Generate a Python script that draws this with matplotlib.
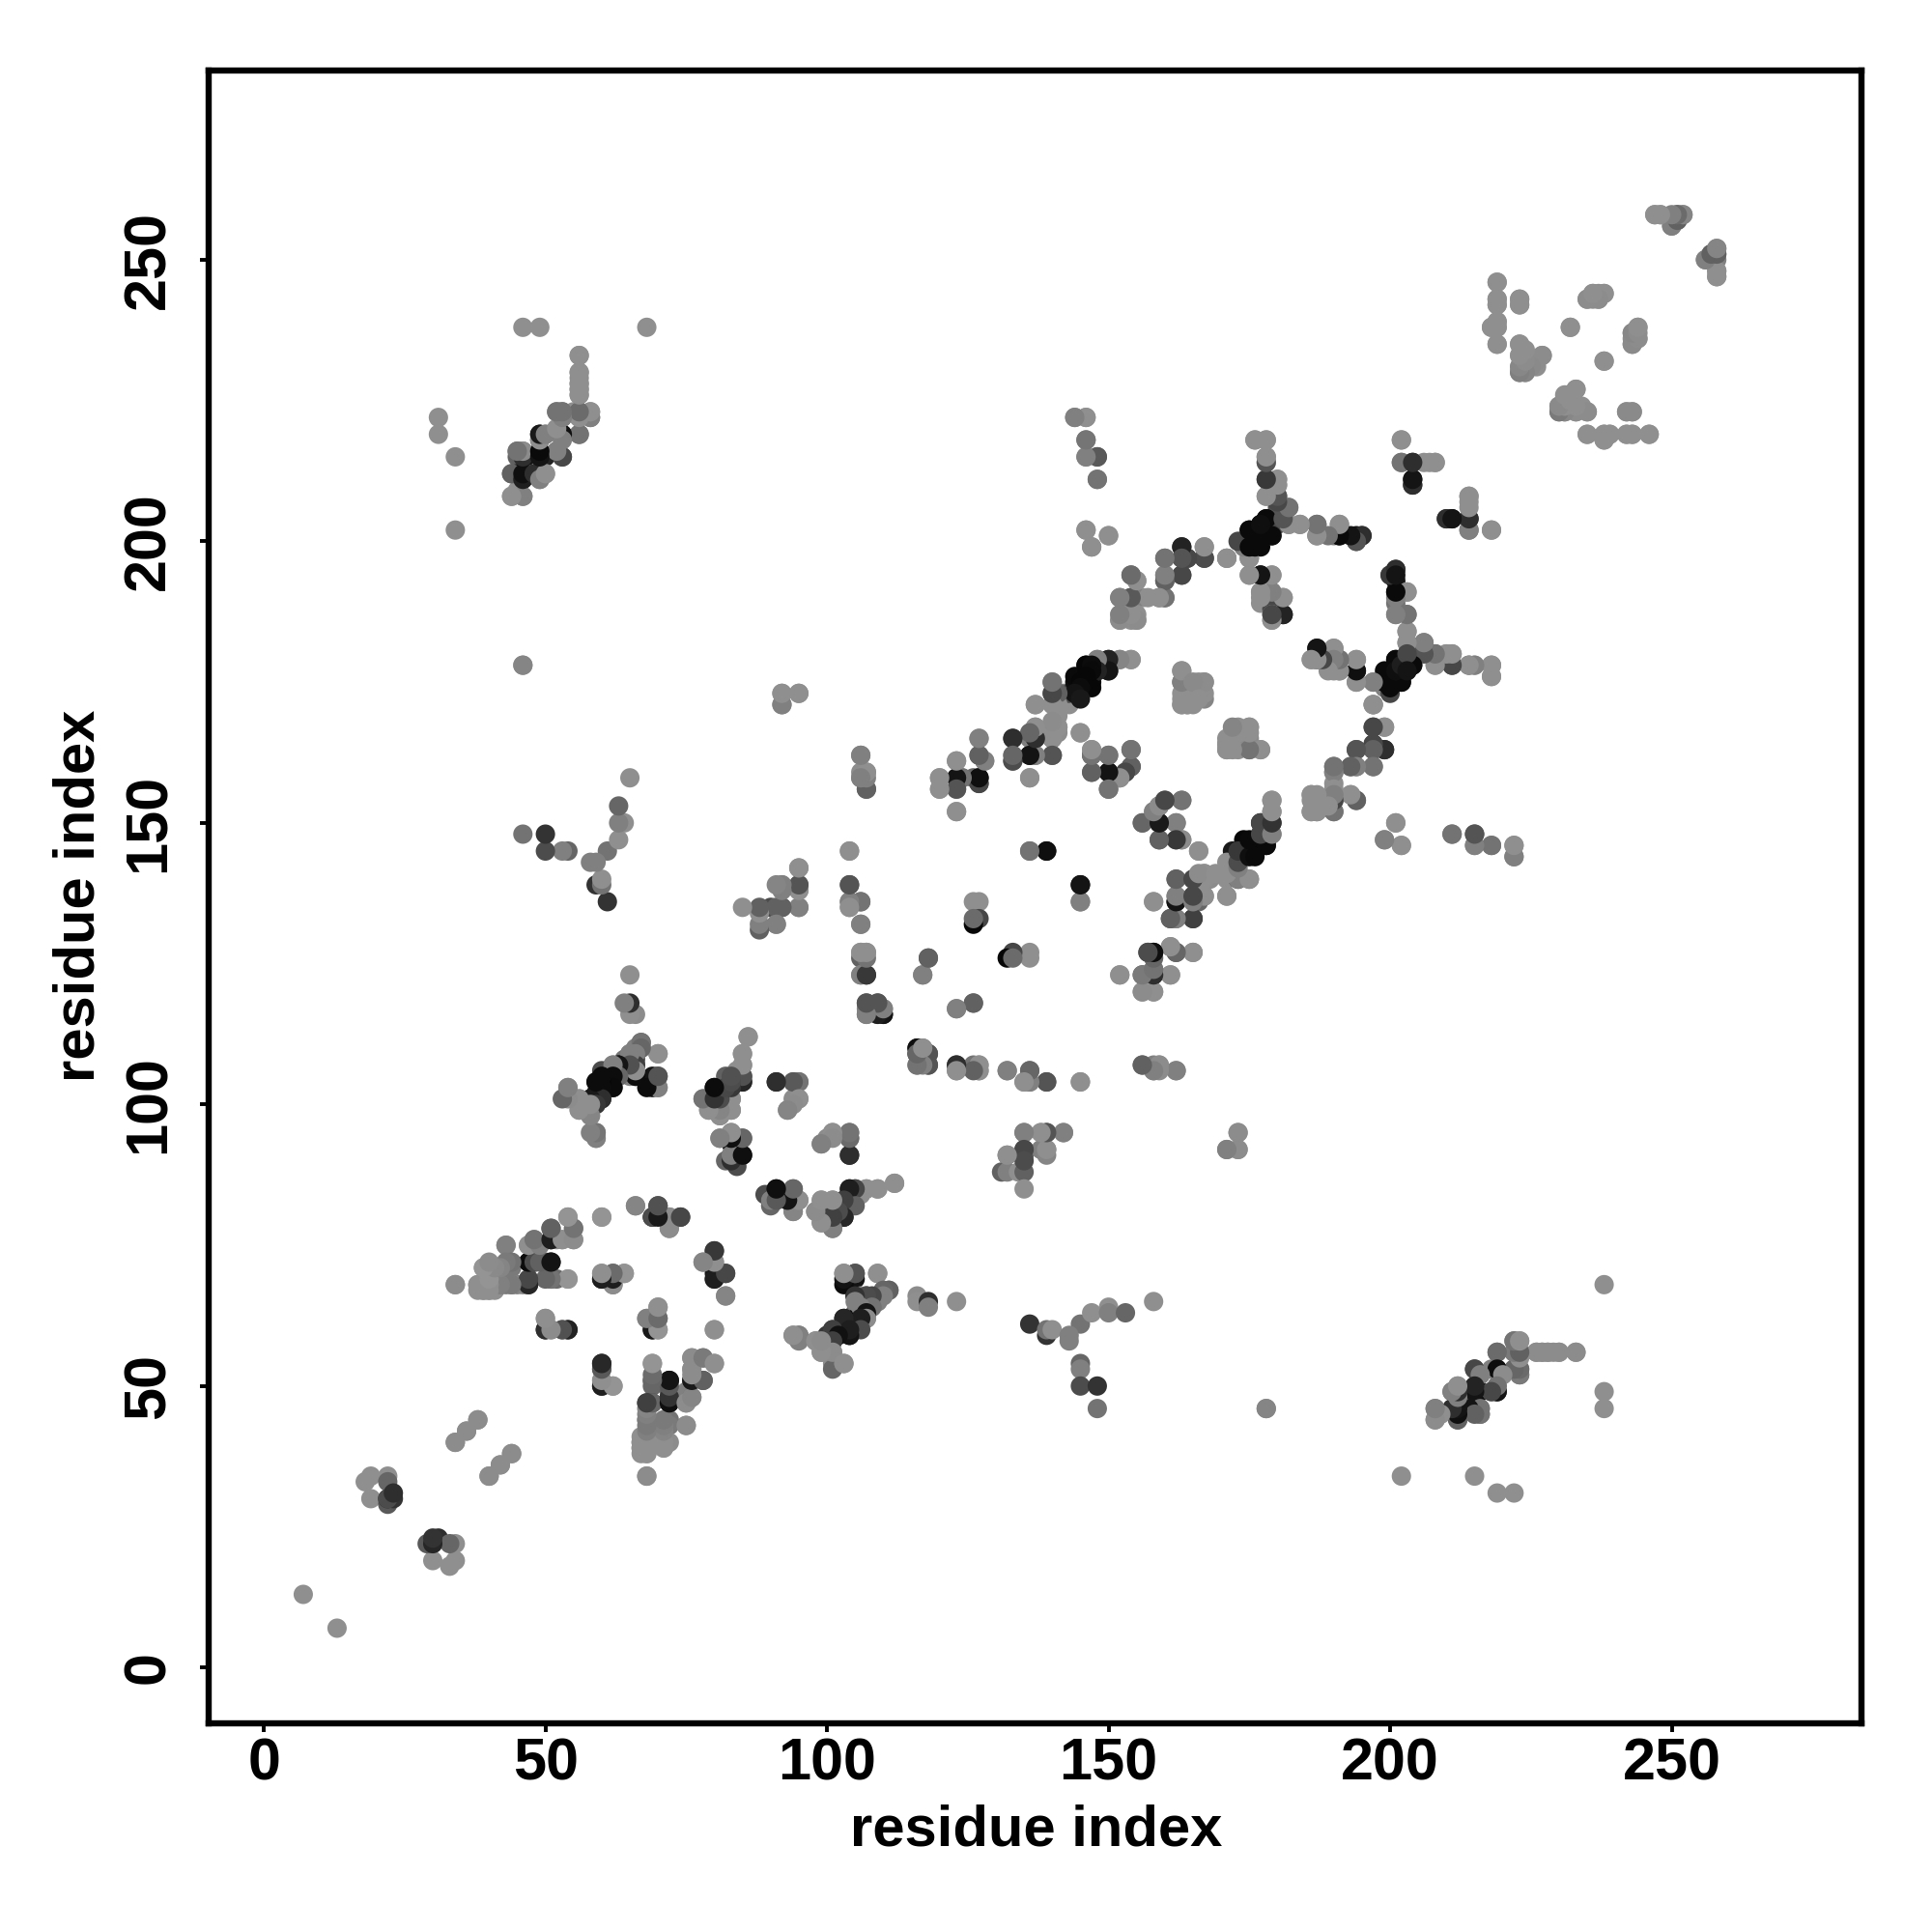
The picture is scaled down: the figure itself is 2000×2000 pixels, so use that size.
import matplotlib
matplotlib.use("Agg")
import matplotlib.pyplot as plt

# (residue a, residue b, grey level), each contact gets mirrored below
ticks = [0, 50, 100, 150, 200, 250]
axis_label = "residue index"

n_term = [(7,13,.56),(18,33,.56),(19,34,.56),(22,34,.56),(22,33,.4),(19,30,.56),(22,29,.35),(22,30,.15),(23,30,.2),
    (30,22,.3),(31,23,.18),(34,40,.55),(36,42,.55),(38,44,.55),(40,34,.55),(42,36,.55),(44,38,.55)]

block_a = [(34,68,.55),(38,68,.56),(39,67,.56),(40,67,.56),(41,67,.56),(39,71,.56),(40,71,.56),(40,68,.56),(41,68,.56),
    (42,71,.52),(43,71,.5),(44,71,.48),(42,68,.5),(43,68,.48),(44,68,.48),(43,75,.55),(45,68,.5),(46,68,.52),
    (47,69,.4),(47,68,.25),(47,72,.06),(48,72,.2),(50,72,.35),(51,72,.08),(51,69,.4),(52,69,.42),(54,69,.58),
    (47,75,.55),(48,76,.52),(51,76,.1),(51,78,.38),(52,76,.55),(53,76,.55),(55,76,.55),(55,78,.48),(54,80,.56),
    (60,80,.56),(66,82,.52),(69,80,.12),(70,82,.28),(72,80,.56),(74,80,.22),(72,78,.52),
    (60,69,.1),(60,70,.58),(62,68,.5),(62,70,.42),(64,70,.56),(80,72,.55),(78,72,.55),(80,74,.28),(80,69,.3),(80,70,.1),
    (82,70,.32),(82,66,.52),(50,60,.12),(50,62,.58),(51,60,.56),(53,60,.35),(54,60,.16),
    (68,62,.55),(69,62,.12),(70,64,.58),(70,62,.42),(69,60,.12),(70,60,.56),(80,60,.58)]

block_b = [(60,54,.14),(60,53,.32),(60,50,.18),(60,51,.55),(62,50,.56),(69,54,.58),(69,51,.45),(69,50,.4),(68,47,.15),
    (69,47,.28),(72,47,.05),(72,48,.3),(72,49,.38),(72,51,.08),(75,47,.56),(75,49,.5),(76,48,.45),(76,51,.12),(76,53,.56),
    (76,55,.55),(78,55,.45),(78,51,.38),(80,54,.58),(75,43,.5),(68,44,.48),(68,42,.5),(67,40,.56),(67,39,.56),(67,38,.56),
    (68,40,.56),(68,39,.56),(68,38,.56),(69,40,.58),(72,44,.45),(72,43,.48),(71,42,.52),(71,41,.54),(71,39,.58),(72,40,.55),(68,34,.55)]

block_c = [(89,84,.3),(90,83,.18),(91,83,.5),(91,85,.06),(94,85,.4),(94,83,.06),(95,83,.56),(94,81,.5),
    (104,85,.15),(105,85,.32),(107,85,.56),(109,85,.56),(112,86,.56),(98,81,.56),(99,83,.56),(101,83,.56),(99,81,.52),(99,79,.56),
    (101,78,.45),(101,81,.3),(101,80,.2),(103,83,.22),(103,82,.28),(104,83,.3),(105,83,.32),(103,80,.05),
    (103,70,.5),(105,69,.08),(103,68,.05),(105,70,.33),(109,70,.56),(111,67,.45),(110,67,.4),(109,66,.5),(107,66,.25),
    (105,66,.05),(106,66,.56),(109,65,.5),(107,65,.32),(107,63,.08),(105,63,.4),(107,62,.5),(105,62,.05),(103,62,.04),(104,60,.03),
    (103,60,.05),(105,60,.05),(101,60,.18),(101,58,.1),(100,59,.22),(104,59,.05),(94,59,.5),(95,59,.46),(95,58,.5),(98,58,.52),
    (99,56,.56),(100,58,.56),(101,56,.56),(101,54,.55),(101,53,.4),(103,54,.5),(116,66,.55),(116,65,.56),(118,65,.18),(118,64,.5),(123,65,.56)]

block_d = [(59,95,.5),(59,94,.56),(70,109,.56),(67,111,.38),(67,110,.4),(66,110,.5),(65,109,.5),(66,108,.28),(66,107,.3),(64,108,.45),
    (66,105,.2),(65,105,.5),(64,106,.5),(63,107,.08),(62,107,.55),(62,106,.12),(62,103,.15),(60,106,.3),(59,104,.08),(60,104,.12),
    (60,101,.25),(59,102,.07),(58,101,.25),(56,101,.55),(54,103,.56),(56,99,.56),(58,98,.56),(58,99,.55),(69,103,.08),(70,105,.33),(70,103,.56),
    (86,112,.56),(85,109,.56),(85,107,.56),(84,106,.56),(85,105,.28),(85,104,.12),(82,105,.38),(83,103,.25),(80,103,.15),(81,102,.3),
    (78,101,.5),(80,101,.25),(79,99,.56),(81,98,.55),(83,101,.56),(83,99,.56),(81,94,.52),(83,95,.56),(83,93,.08),(85,94,.4),(82,90,.4),
    (83,90,.5),(83,91,.35),(85,91,.06),(91,104,.18),(94,104,.42),(95,104,.45),(95,101,.56),(94,101,.55),(93,99,.5),
    (104,95,.45),(104,94,.35),(104,91,.18),(101,95,.56),(100,94,.55),(99,93,.52)]

block_e = [(92,173,.55),(95,173,.55),(92,171,.5),(106,162,.5),(106,159,.55),(107,159,.55),(106,158,.5),(107,156,.38),
    (120,158,.56),(120,156,.55),(123,161,.56),(123,158,.18),(123,156,.48),(124,158,.45),(123,152,.56),(127,165,.56),(127,162,.4),(128,161,.56),
    (126,158,.4),(127,158,.06),(127,157,.3),(133,165,.25),(133,162,.5),(133,161,.38),(136,162,.08),(137,162,.5),(140,162,.38),(136,158,.56),
    (137,167,.56),(136,165,.5),(137,165,.28),(140,167,.56),(141,167,.56),(140,165,.28),(141,166,.55),(137,171,.56),(140,173,.5),(140,175,.56),
    (141,171,.56),(141,169,.56),(143,171,.56),(142,173,.5),(145,166,.56),(147,163,.55),(150,162,.5),(154,163,.45),(147,162,.22),(147,159,.38),
    (150,156,.4),(150,159,.1),(152,158,.5),(153,159,.55),(154,160,.28),(143,173,.3),(145,173,.22),(144,175,.06),(144,176,.04),(146,178,.04),
    (147,175,.04),(148,177,.28),(150,177,.28),(148,179,.5),(150,179,.2),(152,179,.56),(154,179,.56)]

block_f = [(163,177,.56),(163,175,.45),(166,175,.56),(167,175,.56),(166,173,.56),(163,172,.56),(163,171,.56),(164,171,.56),(165,171,.56),(167,172,.52),
    (171,164,.56),(171,163,.56),(173,164,.56),(173,163,.56),(173,167,.56),(175,167,.55),(175,163,.5),(177,163,.56),(172,165,.56),(175,165,.54),(172,166,.56),
    (197,167,.3),(199,167,.56),(197,164,.28),(194,163,.28),(199,163,.14),(197,163,.33),(190,160,.45),(193,160,.38),(194,160,.5),(197,160,.45),(190,159,.56),(197,171,.56),
    (186,155,.55),(186,152,.55),(187,154,.56),(187,152,.5),(190,157,.56),(190,154,.35),(190,152,.5),(193,155,.56),(194,154,.42),
    (201,150,.56),(199,147,.56),(202,146,.56),(211,148,.45),(215,148,.35),(215,146,.5),(218,146,.46),(222,146,.56),(222,144,.5)]

block_g = [(136,145,.5),(139,145,.08),(145,139,.06),(145,136,.45),(179,154,.56),(179,152,.52),(179,150,.14),(177,150,.08),(179,148,.5),(177,148,.14),
    (178,146,.03),(178,147,.05),(177,147,.04),(176,146,.03),(175,146,.03),(175,145,.03),(174,147,.03),(174,145,.05),(173,144,.08),(172,145,.1),
    (171,141,.56),(173,141,.38),(170,141,.56),(171,140,.56),(173,140,.28),(175,140,.45),(171,137,.56),(167,141,.56),(166,140,.56),(165,140,.56),(168,140,.55),
    (162,140,.33),(162,137,.5),(162,136,.08),(165,137,.18),(167,137,.56),(166,136,.4),(165,133,.18),(161,133,.3),(162,133,.4),(158,136,.56),(166,145,.56),
    (157,127,.28),(158,127,.06),(161,128,.5),(162,127,.38),(165,127,.5),(158,124,.45),(158,123,.08),(156,123,.33),(161,123,.56),(152,123,.56),(156,120,.56),(158,120,.56),
    (160,154,.38),(163,154,.45),(159,153,.28),(158,152,.56),(159,150,.08),(156,150,.45),(162,150,.45),(159,147,.38),(162,147,.45),(163,147,.56)]

block_h = [(95,142,.5),(92,139,.56),(95,139,.33),(95,138,.56),(95,135,.5),(92,135,.28),(90,135,.3),(91,132,.56),(104,145,.56),(104,139,.33),(104,136,.5),
    (106,136,.4),(104,135,.56),(106,132,.5),(127,136,.56),(126,136,.56),(127,133,.28),(126,132,.03),(126,133,.42),(106,127,.56),(107,127,.56),(106,126,.38),
    (107,123,.18),(106,123,.56),(118,126,.38),(117,123,.5),(107,118,.33),(109,118,.33),(107,117,.5),(110,116,.06),(107,116,.45),(109,116,.4),(110,117,.56),
    (123,117,.5),(126,118,.38),(116,110,.08),(116,109,.12),(117,110,.5),(118,109,.33),(116,107,.5),(118,107,.33),(123,106,.5),(123,107,.22),(126,107,.45),
    (127,107,.56),(127,106,.56),(132,106,.5),(136,106,.45),(136,104,.5),(135,104,.56),(139,104,.33),(145,104,.56),(156,107,.38),(158,107,.5),(159,107,.56),
    (158,106,.5),(162,106,.5),(135,95,.5),(138,95,.56),(139,95,.33),(142,95,.56),(135,92,.38),(135,91,.38),(138,92,.5),(139,92,.5),(139,91,.52),(132,91,.5),
    (131,88,.38),(132,88,.5),(134,88,.56),(135,88,.38),(135,85,.56),(173,95,.56),(171,92,.5),(173,92,.56)]

block_i = [(136,61,.2),(139,59,.2),(139,60,.45),(140,60,.56),(145,61,.45),(143,58,.5),(143,59,.5),(145,54,.4),(145,53,.5),(145,50,.3),(148,50,.2),(148,46,.45),
    (147,63,.56),(150,64,.56),(150,63,.5),(153,63,.4),(158,65,.56),(178,46,.52),(202,34,.56),(215,34,.56),(219,31,.56),(222,31,.56),(46,178,.52),(68,238,.56),(46,238,.56),(49,238,.56)]

block_j = [(144,222,.5),(146,222,.56),(146,218,.45),(146,215,.5),(148,215,.33),(148,211,.45),(146,202,.56),(150,201,.56),(147,199,.5),
    (176,218,.56),(178,218,.56),(178,215,.5),(178,214,.56),(178,211,.28),(180,211,.56),(180,210,.56),(178,208,.56),(180,208,.45),(180,206,.33),(182,206,.5),
    (182,203,.56),(184,203,.56),(187,203,.45),(187,201,.5),(191,203,.56),(190,201,.5),(191,201,.04),(194,200,.22),(195,201,.18),(194,201,.08),
    (174,200,.04),(175,202,.04),(178,204,.04),(175,199,.04),(177,199,.04),(179,201,.04),(177,201,.06),(178,202,.12),(180,203,.28),(177,203,.08),
    (171,197,.56),(175,197,.5),(175,194,.56),(177,194,.06),(179,194,.56),(177,191,.56),(179,191,.45),(181,190,.56),(179,190,.5),(177,189,.56),(179,188,.28),(179,187,.56),(181,187,.08),(179,186,.56),
    (163,199,.18),(167,199,.56),(167,197,.28),(164,197,.28),(163,197,.38),(163,194,.33),(160,197,.45),(160,194,.5),(160,193,.38),(154,194,.38),(155,193,.56),
    (159,190,.5),(160,190,.45),(156,190,.56),(152,190,.45),(154,190,.28),(155,190,.5),(152,186,.56),(154,186,.56),(155,186,.56),(152,187,.56),(155,187,.56),(153,189,.56)]

block_k = [(187,181,.14),(186,179,.56),(187,179,.28),(190,181,.56),(191,179,.5),(190,177,.56),(191,177,.56),(194,179,.56),(194,177,.08),(194,175,.56),(197,175,.56),(197,171,.56),
    (199,174,.5),(200,173,.28),(199,176,.04),(199,175,.04),(201,179,.04),(202,175,.04),(204,178,.04),(201,177,.04),(203,177,.06),
    (201,195,.18),(200,194,.33),(201,193,.08),(201,191,.04),(203,191,.56),(201,189,.45),(201,187,.56),(203,187,.45),(203,184,.56),(203,182,.56),(204,181,.33),(206,182,.45),
    (207,180,.28),(208,180,.33),(210,180,.56),(211,180,.56),(208,178,.56),(211,178,.22),(214,178,.33),(215,178,.56),(218,178,.56),(218,176,.56),
    (202,218,.56),(202,214,.5),(204,214,.18),(206,214,.56),(208,214,.56),(204,210,.18),(204,211,.08),(210,204,.18),(211,204,.08),(214,208,.56),(214,207,.56),(214,202,.45),(214,204,.18),(218,202,.56)]

block_l = [(219,246,.56),(219,243,.56),(219,242,.56),(223,243,.54),(223,242,.54),(219,239,.56),(218,238,.56),(219,238,.56),(219,235,.56),
    (223,235,.55),(223,233,.55),(223,231,.53),(223,230,.48),(224,233,.56),(224,231,.56),(224,230,.54),(225,232,.56),(226,232,.56),(226,231,.56),(227,233,.56),
    (232,238,.56),(235,243,.54),(236,244,.55),(237,243,.53),(237,244,.55),(238,244,.56),(238,232,.56),(244,238,.56),(243,237,.55),(243,236,.55),(243,235,.55),(244,236,.56),
    (233,227,.55),(232,226,.55),(231,225,.54),(230,224,.52),(230,223,.5),(231,223,.53),(232,224,.55),(233,223,.56),(234,224,.56),(235,223,.56),(242,223,.56),(243,223,.56),
    (235,219,.56),(238,219,.56),(239,219,.56),(238,218,.56),(242,219,.56),(243,219,.56),(246,219,.56),
    (247,258,.56),(248,258,.56),(250,256,.5),(251,258,.38),(251,257,.38),(252,258,.52),(256,250,.5),(257,251,.38),(258,252,.52),(258,251,.42),(258,250,.5),(258,248,.56),(258,247,.56)]

block_m = [(56,233,.55),(56,230,.55),(56,229,.55),(56,228,.55),(56,227,.55),(56,226,.55),(52,223,.48),(53,223,.42),(53,222,.4),(55,223,.56),(56,222,.48),(56,223,.38),(58,222,.45),(58,223,.56),
    (56,219,.42),(53,219,.05),(52,220,.55),(49,219,.08),(50,219,.45),(49,218,.28),(53,215,.28),(52,216,.5),(49,215,.08),(50,215,.14),
    (45,216,.45),(46,216,.45),(46,214,.08),(45,215,.38),(44,212,.38),(45,212,.06),(46,212,.08),(46,211,.18),(48,212,.5),(49,212,.18),(49,211,.5),(50,212,.56),(45,209,.56),(44,208,.55),(46,208,.5)]

block_n = [(208,46,.5),(208,44,.56),(212,44,.38),(211,46,.12),(212,46,.06),(212,48,.18),(211,49,.5),(212,50,.56),(215,46,.18),(216,46,.55),(216,45,.45),
    (215,53,.28),(216,52,.5),(215,49,.08),(216,49,.04),(218,49,.56),(219,49,.1),(219,50,.5),(219,56,.45),(219,53,.06),(218,53,.5),(220,52,.56),
    (222,58,.5),(223,58,.56),(222,56,.56),(223,56,.42),(222,53,.5),(223,53,.45),(223,52,.45),(226,56,.56),(227,56,.56),(228,56,.56),(230,56,.56),(233,56,.56)]

contacts = (n_term + block_a + block_b + block_c + block_d + block_e + block_f + block_g
            + block_h + block_i + block_j + block_k + block_l + block_m + block_n)

xs = [c[0] for c in contacts] + [c[1] for c in contacts]
ys = [c[1] for c in contacts] + [c[0] for c in contacts]
shade = [c[2] for c in contacts] * 2

plt.rcParams['font.family'] = 'Liberation Sans'
plt.rcParams['font.weight'] = 'bold'

fig = plt.figure(figsize=(10, 10), dpi=200)
ax = fig.add_axes([216/2000, 216/2000, (1927 - 216)/2000, (1927 - 216)/2000])
ax.scatter(xs, ys, c=shade, cmap='gray', vmin=0, vmax=1, s=52, linewidths=0)

ax.set_xlim(-9.8, 283.7)
ax.set_ylim(-9.9, 283.6)
ax.set_xticks(ticks)
ax.set_yticks(ticks)
ax.tick_params(length=3.2, width=1.4, labelsize=22)
ax.tick_params(axis='x', pad=2)
ax.tick_params(axis='y', pad=8.5)
plt.setp(ax.get_yticklabels(), rotation=90, va='center')
for s in ax.spines.values():
    s.set_linewidth(2.3)

fig.text(1073/2000, 1 - 1895/2000, axis_label, fontsize=21.5, ha='center', va='center')
fig.text(82/2000, 1 - 927/2000, axis_label, fontsize=21.5, ha='center', va='center', rotation=90)

fig.savefig('out.png', dpi=200)
